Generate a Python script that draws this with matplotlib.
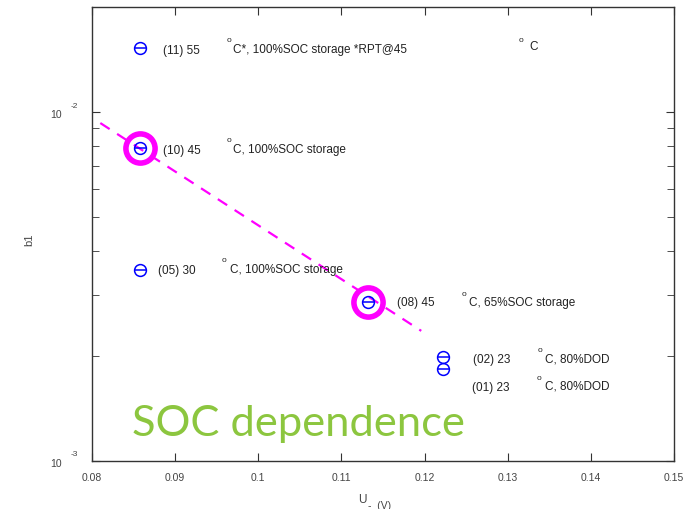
import numpy as np
import matplotlib
matplotlib.use('Agg')
import matplotlib.pyplot as plt
from matplotlib.ticker import LogLocator, NullFormatter, FixedLocator

plt.rcParams['font.family'] = ['Liberation Sans', 'DejaVu Sans']

## data
cell_ids = ['(11) 55', '(10) 45', '(05) 30', '(08) 45', '(02) 23', '(01) 23']
u_vals = [0.0858, 0.0858, 0.0858, 0.1132, 0.1222, 0.1222]
b1_vals = [0.01524, 0.00788, 0.00352, 0.00286, 0.00199, 0.00183]
cond_texts = ['C*, 100%SOC storage *RPT@45', 'C, 100%SOC storage', 'C, 100%SOC storage',
              'C, 65%SOC storage', 'C, 80%DOD', 'C, 80%DOD']
highlight_idx = [1, 3]
fit_u = [0.0810, 0.1196]
fit_b1 = [0.0093, 0.00236]
x_ticks = [0.08, 0.09, 0.1, 0.11, 0.12, 0.13, 0.14, 0.15]
x_ticklabels = ['0.08', '0.09', '0.1', '0.11', '0.12', '0.13', '0.14', '0.15']

## label positions in pixels (layout only)
id_pos = [(163, 51), (163, 151), (158, 271), (397, 303), (473, 360), (472, 388)]
deg_pos = [(227, 41), (227, 141), (222, 260), (462, 294), (538, 350), (537, 378)]
cond_pos = [(233, 50), (233, 150), (230, 270), (469, 303), (545, 359), (545, 387)]

W, H = 684.0, 510.0
fig = plt.figure(figsize=(6.84, 5.10), dpi=100)
ax = fig.add_axes([92/W, 48/H, 582/W, 454/H])

def pix(px, py):
    return ((px - 92) / 582.0, (462 - py) / 454.0)

ax.set_yscale('log')
ax.set_xlim(0.08, 0.15)
ax.set_ylim(1e-3, 2e-2)

# fit line
ax.plot(fit_u, fit_b1, '--', color='#ff00ff', lw=1.6, dashes=(5, 4), zorder=2)

# highlight rings
ax.plot([u_vals[i] for i in highlight_idx], [b1_vals[i] for i in highlight_idx], 'o',
        ms=21, mfc='none', mec='#ff00ff', mew=4, zorder=3)

# data points: open circle with bar
ax.plot(u_vals, b1_vals, 'o', ms=8.5, mfc='none', mec='#0000ff', mew=1.1, zorder=4)
ax.plot(u_vals, b1_vals, '_', ms=8.5, mec='#0000ff', mew=1.1, zorder=4)

txt_col = '#222222'
for i in range(len(cell_ids)):
    ax.text(*pix(*id_pos[i]), cell_ids[i], transform=ax.transAxes, fontsize=8.5,
            va='center', ha='left', color=txt_col)
    ax.text(*pix(*deg_pos[i]), 'o', transform=ax.transAxes, fontsize=6,
            va='center', ha='left', color=txt_col)
    ax.text(*pix(*cond_pos[i]), cond_texts[i], transform=ax.transAxes, fontsize=8.5,
            va='center', ha='left', color=txt_col)

# stray label top right
ax.text(*pix(519, 40), 'o', transform=ax.transAxes, fontsize=6, va='center', ha='left', color=txt_col)
ax.text(*pix(529, 47), 'C', transform=ax.transAxes, fontsize=8.5, va='center', ha='left', color=txt_col)

# big title
ax.text(*pix(132, 436), 'SOC dependence', transform=ax.transAxes, fontsize=31.3,
        family='Lato', color='#8cc63f', va='baseline', ha='left')

# ticks
ax.xaxis.set_major_locator(FixedLocator(x_ticks))
ax.set_xticklabels(x_ticklabels)
ax.yaxis.set_major_locator(LogLocator(base=10))
ax.yaxis.set_minor_locator(LogLocator(base=10, subs=np.arange(2, 10)))
ax.yaxis.set_minor_formatter(NullFormatter())
ax.tick_params(axis='both', which='both', direction='in', top=True, right=True,
               labelsize=7.5, colors='#333333', labelcolor='#444444')
ax.tick_params(axis='both', which='major', length=6, pad=8)
ax.tick_params(axis='y', which='minor', length=5)
ax.set_yticklabels([])

# y tick labels as 10 with raised exponent
for py, ex in [(462, '-3'), (113, '-2')]:
    ax.text(-0.051, pix(0, py + 2)[1], '10', transform=ax.transAxes, fontsize=7.5,
            color='#444444', ha='right', va='center')
    ax.text(-0.036, pix(0, py - 7)[1], ex, transform=ax.transAxes, fontsize=6,
            color='#444444', ha='left', va='center')

for sp in ax.spines.values():
    sp.set_color('#333333')
    sp.set_linewidth(1.0)

fig.text(29/W, 1 - 240/H, 'b1', fontsize=8, color='#444444', rotation=90, ha='center', va='center')
fig.text(358/W, 1 - 500/H, 'U', fontsize=8.5, color='#444444', ha='left', va='center')
fig.text(368/W, 1 - 506/H, '-  (V)', fontsize=7.5, color='#444444', ha='left', va='center')

plt.savefig('out.png', dpi=100)
